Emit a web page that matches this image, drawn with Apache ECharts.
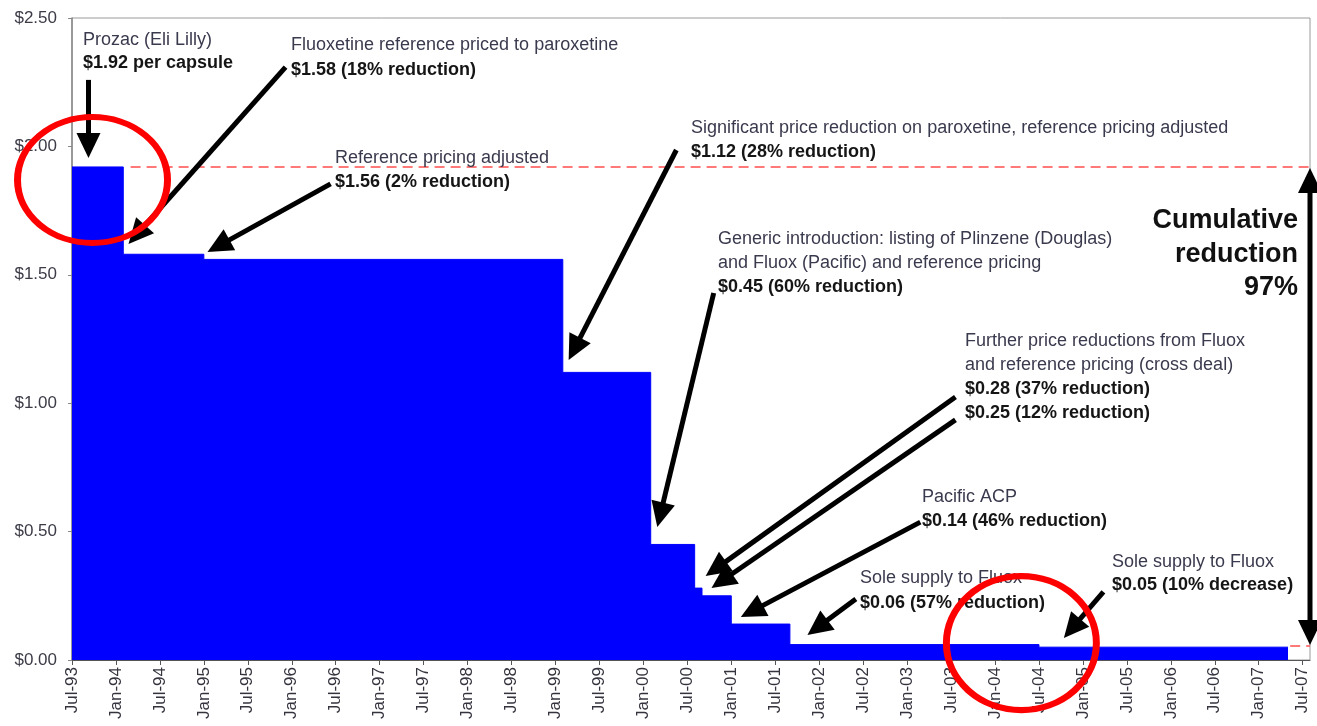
<!DOCTYPE html>
<html>
<head>
<meta charset="utf-8">
<script src="https://cdn.jsdelivr.net/npm/echarts@6/dist/echarts.min.js"></script>
<style>
  html, body { margin: 0; padding: 0; background: #fff; }
  #chart { width: 1317px; height: 726px; }
</style>
</head>
<body>
<div id="chart"></div>
<script>
// x is counted in months from Jul-93
const tickLabels = [
  'Jul-93', 'Jan-94', 'Jul-94', 'Jan-95', 'Jul-95', 'Jan-96', 'Jul-96', 'Jan-97',
  'Jul-97', 'Jan-98', 'Jul-98', 'Jan-99', 'Jul-99', 'Jan-00', 'Jul-00', 'Jan-01',
  'Jul-01', 'Jan-02', 'Jul-02', 'Jan-03', 'Jul-03', 'Jan-04', 'Jul-04', 'Jan-05',
  'Jul-05', 'Jan-06', 'Jul-06', 'Jan-07', 'Jul-07'
];
const tickMonths = [0, 6, 12, 18, 24, 30, 36, 42, 48, 54, 60, 66, 72, 78, 84, 90, 96,
  102, 108, 114, 120, 126, 132, 138, 144, 150, 156, 162, 168];

// price per capsule, each value holds from its month to the next one
const stepMonths = [0, 7, 18, 67, 79, 85, 86, 90, 98, 132, 166];
const prices = [1.92, 1.58, 1.56, 1.12, 0.45, 0.28, 0.25, 0.14, 0.06, 0.05, 0.05];

const startPrice = 1.92;
const endPrice = 0.05;

// annotation arrows: [fromMonth, fromPrice, toMonth, toPrice]
const arrows = [
  [2.25, 2.259, 2.25, 1.955],
  [29.15, 2.309, 7.71, 1.62],
  [35.3, 1.854, 18.5, 1.589],
  [82.5, 1.986, 67.8, 1.168],
  [87.6, 1.429, 79.9, 0.518],
  [120.6, 1.024, 86.5, 0.327],
  [120.6, 0.935, 87.3, 0.280],
  [115.8, 0.537, 91.3, 0.167],
  [107.0, 0.238, 100.4, 0.097],
  [140.8, 0.265, 135.4, 0.086]
];
const cumulativeArrow = [169, 1.916, 169, 0.058];

// red highlight circles: [month, price, rx, ry]
const circles = [
  [2.8, 1.869, 75, 63],
  [129.6, 0.066, 75, 67]
];

// text blocks: left x, first-line y, lines [text, bold]
const notes = [
  { x: 83, y: 40, gap: 23, lines: [['Prozac (Eli Lilly)', false], ['$1.92 per capsule', true]] },
  { x: 291, y: 45, gap: 25, lines: [['Fluoxetine reference priced to paroxetine', false], ['$1.58 (18% reduction)', true]] },
  { x: 335, y: 158, gap: 24, lines: [['Reference pricing adjusted', false], ['$1.56 (2% reduction)', true]] },
  { x: 691, y: 128, gap: 24, lines: [['Significant price reduction on paroxetine, reference pricing adjusted', false], ['$1.12 (28% reduction)', true]] },
  { x: 718, y: 239, gap: 24, lines: [['Generic introduction: listing of Plinzene (Douglas)', false], ['and Fluox (Pacific) and reference pricing', false], ['$0.45 (60% reduction)', true]] },
  { x: 965, y: 341, gap: 24, lines: [['Further price reductions from Fluox', false], ['and reference pricing (cross deal)', false], ['$0.28 (37% reduction)', true], ['$0.25 (12% reduction)', true]] },
  { x: 922, y: 497, gap: 24, lines: [['Pacific ACP', false], ['$0.14 (46% reduction)', true]] },
  { x: 860, y: 578, gap: 25, lines: [['Sole supply to Fluox', false], ['$0.06 (57% reduction)', true]] },
  { x: 1112, y: 562, gap: 23, lines: [['Sole supply to Fluox', false], ['$0.05 (10% decrease)', true]] }
];
const cumulativeLines = ['Cumulative', 'reduction', '97%'];

const FONT = '"Liberation Sans", Arial, sans-serif';

const chart = echarts.init(document.getElementById('chart'), null, { renderer: 'canvas' });

const priceData = stepMonths.map((m, i) => [m, prices[i]]);

chart.setOption({
  animation: false,
  grid: {
    left: 72, right: 7, top: 18, bottom: 66,
    show: true, borderColor: '#9a9a9a', borderWidth: 1
  },
  xAxis: {
    type: 'value',
    min: 0,
    max: 169,
    interval: 6,
    splitLine: { show: false },
    axisLine: { show: true, lineStyle: { color: '#555', width: 1 } },
    axisTick: { show: true, length: 5, customValues: tickMonths, lineStyle: { color: '#555' } },
    axisLabel: {
      customValues: tickMonths,
      rotate: 90,
      margin: 7,
      fontSize: 17,
      fontFamily: FONT,
      color: '#34343f',
      formatter: v => {
        const i = tickMonths.indexOf(v);
        return i >= 0 ? tickLabels[i] : '';
      }
    }
  },
  yAxis: {
    type: 'value',
    min: 0,
    max: 2.5,
    interval: 0.5,
    splitLine: { show: false },
    axisLine: { show: true, lineStyle: { color: '#888', width: 1.5 } },
    axisTick: { show: true, length: 4, lineStyle: { color: '#888' } },
    axisLabel: {
      margin: 15,
      fontSize: 17,
      fontFamily: FONT,
      color: '#3c3c48',
      formatter: v => '$' + v.toFixed(2)
    }
  },
  series: [
    {
      type: 'line',
      step: 'end',
      data: priceData,
      symbol: 'none',
      lineStyle: { color: '#0000ff', width: 1 },
      areaStyle: { color: '#0000ff', opacity: 1 },
      z: 2,
      markLine: {
        silent: true,
        symbol: ['none', 'none'],
        label: { show: false },
        lineStyle: { color: '#ff4d4d', type: [10, 6], width: 1.6 },
        data: [
          [{ coord: [8, startPrice] }, { coord: [169, startPrice] }],
          [{ coord: [166.3, endPrice + 0.004] }, { coord: [169, endPrice + 0.004] }]
        ]
      }
    }
  ]
});

function arrowShapes(p0, p1, bothEnds) {
  const headLen = 25, halfW = 12;
  const dx = p1[0] - p0[0], dy = p1[1] - p0[1];
  const len = Math.sqrt(dx * dx + dy * dy);
  const ux = dx / len, uy = dy / len;
  const nx = -uy, ny = ux;
  const head = (tip, dirx, diry) => ({
    type: 'polygon',
    z: 20,
    shape: {
      points: [
        tip,
        [tip[0] - dirx * headLen + nx * halfW, tip[1] - diry * headLen + ny * halfW],
        [tip[0] - dirx * headLen - nx * halfW, tip[1] - diry * headLen - ny * halfW]
      ]
    },
    style: { fill: '#000' }
  });
  const a = bothEnds ? [p0[0] + ux * (headLen - 2), p0[1] + uy * (headLen - 2)] : p0;
  const b = [p1[0] - ux * (headLen - 2), p1[1] - uy * (headLen - 2)];
  const out = [{
    type: 'line',
    z: 20,
    shape: { x1: a[0], y1: a[1], x2: b[0], y2: b[1] },
    style: { stroke: '#000', lineWidth: 5 }
  }, head(p1, ux, uy)];
  if (bothEnds) out.push(head(p0, -ux, -uy));
  return out;
}

const toPx = (m, p) => chart.convertToPixel({ gridIndex: 0 }, [m, p]);
const graphics = [];

notes.forEach(n => {
  n.lines.forEach((ln, i) => {
    graphics.push({
      type: 'text',
      z: 10,
      style: {
        text: ln[0],
        x: n.x,
        y: n.y + i * n.gap,
        textVerticalAlign: 'middle',
        font: (ln[1] ? 'bold ' : '') + '18px ' + FONT,
        fill: ln[1] ? '#151515' : '#3a3a4e'
      }
    });
  });
});

cumulativeLines.forEach((t, i) => {
  graphics.push({
    type: 'text',
    z: 10,
    style: {
      text: t,
      x: 1298,
      y: 221 + i * 33.5,
      textAlign: 'right',
      textVerticalAlign: 'middle',
      font: 'bold 27px ' + FONT,
      fill: '#111'
    }
  });
});

arrows.forEach(a => {
  graphics.push(...arrowShapes(toPx(a[0], a[1]), toPx(a[2], a[3]), false));
});
graphics.push(...arrowShapes(
  toPx(cumulativeArrow[0], cumulativeArrow[1]),
  toPx(cumulativeArrow[2], cumulativeArrow[3]), true));

circles.forEach(c => {
  const p = toPx(c[0], c[1]);
  graphics.push({
    type: 'circle',
    z: 30,
    x: p[0],
    y: p[1],
    scaleY: c[3] / c[2],
    shape: { cx: 0, cy: 0, r: c[2] },
    style: { fill: null, stroke: '#ff0000', lineWidth: 7, strokeNoScale: true }
  });
});

chart.setOption({ graphic: graphics });
</script>
</body>
</html>
